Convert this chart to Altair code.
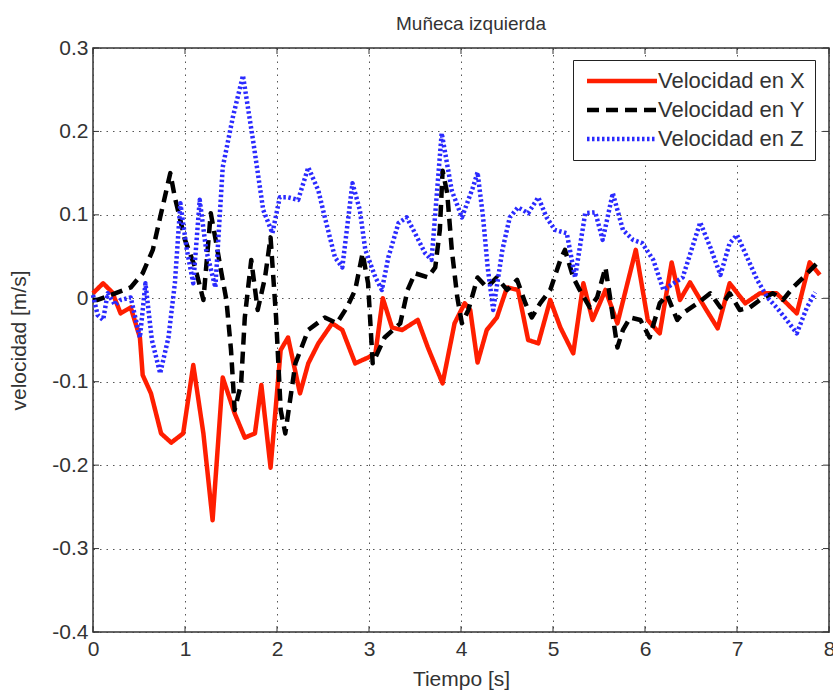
import altair as alt
import pandas as pd

# ---- data ----
t_x = [0.00,0.11,0.21,0.30,0.41,0.51,0.54,0.63,0.74,0.85,0.98,1.09,1.20,1.30,1.41,1.54,1.65,1.76,1.83,1.93,
       2.04,2.12,2.25,2.34,2.45,2.60,2.71,2.85,2.99,3.07,3.15,3.25,3.36,3.53,3.64,3.80,3.93,4.04,4.10,4.18,
       4.28,4.39,4.50,4.62,4.73,4.84,4.97,5.08,5.22,5.33,5.43,5.57,5.70,5.90,6.03,6.16,6.29,6.38,6.49,6.65,
       6.79,6.92,7.09,7.25,7.43,7.65,7.79,7.90]
v_x = [0.006,0.018,0.007,-0.018,-0.011,-0.047,-0.092,-0.114,-0.162,-0.173,-0.162,-0.080,-0.162,-0.266,-0.095,-0.138,-0.167,-0.162,-0.104,-0.203,
       -0.062,-0.047,-0.114,-0.078,-0.054,-0.030,-0.038,-0.078,-0.071,-0.066,0.000,-0.035,-0.038,-0.026,-0.059,-0.102,-0.030,-0.006,-0.014,-0.077,
       -0.038,-0.023,0.013,0.010,-0.050,-0.054,-0.002,-0.035,-0.066,0.018,-0.026,0.010,-0.030,0.058,-0.026,-0.042,0.043,-0.002,0.019,-0.011,
       -0.036,0.018,-0.006,0.006,0.006,-0.018,0.043,0.028]

t_y = [0.00,0.05,0.24,0.41,0.54,0.65,0.73,0.84,0.89,1.00,1.11,1.20,1.28,1.34,1.39,1.45,1.50,1.54,1.61,1.65,
       1.72,1.79,1.87,1.93,1.99,2.04,2.09,2.20,2.34,2.52,2.65,2.76,2.85,2.93,2.99,3.04,3.17,3.34,3.42,3.50,
       3.64,3.72,3.77,3.80,3.85,3.90,3.96,4.01,4.08,4.18,4.28,4.39,4.50,4.61,4.70,4.77,4.86,4.97,5.08,5.13,
       5.22,5.29,5.40,5.48,5.57,5.62,5.70,5.76,5.84,5.95,6.05,6.16,6.24,6.35,6.41,6.57,6.71,6.82,6.92,7.03,
       7.14,7.25,7.39,7.50,7.61,7.72,7.87]
v_y = [-0.002,-0.002,0.006,0.013,0.030,0.058,0.097,0.150,0.121,0.070,0.037,-0.002,0.102,0.066,0.034,-0.002,-0.062,-0.134,-0.102,-0.023,
       0.046,-0.014,0.025,0.073,-0.023,-0.134,-0.162,-0.078,-0.038,-0.023,-0.030,-0.011,0.010,0.054,0.018,-0.078,-0.047,-0.030,0.010,0.030,
       0.025,0.037,0.082,0.153,0.126,0.058,0.001,-0.030,-0.014,0.025,0.013,0.025,0.010,0.022,-0.006,-0.023,-0.006,0.010,0.046,0.058,
       0.025,0.010,-0.011,0.001,0.037,0.001,-0.059,-0.038,-0.023,-0.026,-0.047,-0.006,0.004,-0.026,-0.018,-0.006,0.006,-0.011,0.006,-0.014,
       -0.011,-0.002,0.006,-0.002,0.013,0.025,0.042]

t_z = [0.00,0.05,0.11,0.16,0.24,0.30,0.41,0.51,0.57,0.64,0.73,0.82,0.89,0.95,1.02,1.09,1.16,1.23,1.33,1.41,
       1.52,1.63,1.74,1.85,1.95,2.03,2.12,2.23,2.34,2.45,2.52,2.63,2.71,2.82,2.90,2.96,3.07,3.14,3.21,3.32,
       3.41,3.50,3.61,3.68,3.79,3.90,4.01,4.13,4.18,4.24,4.29,4.35,4.45,4.53,4.62,4.73,4.84,4.93,5.02,5.15,
       5.24,5.35,5.46,5.54,5.65,5.76,5.87,5.97,6.09,6.20,6.41,6.60,6.71,6.82,6.92,7.00,7.11,7.22,7.33,7.43,
       7.54,7.65,7.76,7.85]
v_z = [0.004,-0.020,-0.026,0.006,-0.008,-0.002,0.001,-0.047,0.018,-0.050,-0.090,-0.047,0.018,0.114,0.058,0.018,0.118,0.058,0.013,0.157,
       0.217,0.267,0.189,0.106,0.078,0.121,0.121,0.118,0.157,0.129,0.097,0.049,0.037,0.138,0.106,0.058,0.025,0.010,0.049,0.090,
       0.097,0.078,0.054,0.046,0.198,0.129,0.097,0.133,0.151,0.097,0.037,-0.014,0.058,0.097,0.109,0.102,0.121,0.097,0.082,0.078,
       0.025,0.102,0.103,0.070,0.126,0.082,0.070,0.066,0.046,0.010,0.025,0.091,0.061,0.028,0.066,0.076,0.049,0.022,0.001,-0.011,
       -0.026,-0.042,-0.011,0.007]

series_names = ["Velocidad en X", "Velocidad en Y", "Velocidad en Z"]
x_ticks = [0, 1, 2, 3, 4, 5, 6, 7, 8]
y_ticks = [-0.4, -0.3, -0.2, -0.1, 0.0, 0.1, 0.2, 0.3]

rows = []
for name, ts, vs in zip(series_names, [t_x, t_y, t_z], [v_x, v_y, v_z]):
    for t, v in zip(ts, vs):
        rows.append({"t": t, "v": v, "serie": name})
df = pd.DataFrame(rows)

FONT = "Liberation Sans, Arial, Helvetica, sans-serif"
TXT = "#333333"
W, H = 736, 584
FS = 21

xs = alt.Scale(domain=[0, 8], nice=False, zero=False)
ys = alt.Scale(domain=[-0.4, 0.3], nice=False, zero=False)

lines = alt.Chart(df).mark_line(strokeCap="butt", strokeJoin="round").encode(
    x=alt.X("t:Q", scale=xs, title="Tiempo [s]",
            axis=alt.Axis(values=x_ticks, format="d", labelFlush=False, ticks=False,
                          labelPadding=6, titlePadding=9, grid=True)),
    y=alt.Y("v:Q", scale=ys, title="velocidad [m/s]",
            axis=alt.Axis(values=y_ticks, labelExpr="'' + round(datum.value*10)/10",
                          ticks=False, labelPadding=5, titlePadding=22, grid=True)),
    color=alt.Color("serie:N", scale=alt.Scale(domain=series_names, range=["#ff1e00", "#000000", "#2a2aff"]),
                    legend=alt.Legend(title=None, orient="none", legendX=480, legendY=12,
                                      symbolType="M-4,0H4", symbolSize=306.25, symbolOffset=28,
                                      labelFont=FONT, labelFontSize=22, labelColor=TXT,
                                      labelOffset=25, rowPadding=7, padding=10,
                                      strokeColor="#222222", fillColor="white",
                                      cornerRadius=0)),
    strokeDash=alt.StrokeDash("serie:N", scale=alt.Scale(domain=series_names, range=[[1, 0], [12, 7], [2.5, 2.5]]),
                              legend=alt.Legend(title=None)),
    strokeWidth=alt.StrokeWidth("serie:N", scale=alt.Scale(domain=series_names, range=[4.5, 4.5, 2.0]),
                                legend=alt.Legend(title=None)),
    order=alt.Order("t:Q"),
)

xt = pd.DataFrame({"tick": x_ticks})
yt = pd.DataFrame({"tick": y_ticks})
tick_style = dict(color="#333333", strokeWidth=1)
xb = alt.Chart(xt).mark_rule(**tick_style).encode(x=alt.X("tick:Q", scale=xs), y=alt.value(H), y2=alt.value(H - 6))
xtop = alt.Chart(xt).mark_rule(**tick_style).encode(x=alt.X("tick:Q", scale=xs), y=alt.value(0), y2=alt.value(6))
yl = alt.Chart(yt).mark_rule(**tick_style).encode(y=alt.Y("tick:Q", scale=ys), x=alt.value(0), x2=alt.value(6))
yr = alt.Chart(yt).mark_rule(**tick_style).encode(y=alt.Y("tick:Q", scale=ys), x=alt.value(W), x2=alt.value(W - 6))

chart = alt.layer(xb, xtop, yl, yr, lines).properties(
    width=W, height=H,
    background="white",
    title=alt.TitleParams("Muñeca izquierda", font=FONT, fontSize=19, fontWeight="normal",
                          color=TXT, offset=3, anchor="middle", dx=10),
    autosize=alt.AutoSizeParams(type="none"),
    padding={"left": 93, "top": 48, "right": 4, "bottom": 59},
).configure_view(
    stroke="#333333", strokeWidth=1.5
).configure_axis(
    labelFont=FONT, labelFontSize=FS, labelColor=TXT,
    titleFont=FONT, titleFontSize=FS, titleColor=TXT, titleFontWeight="normal",
    domain=False, gridColor="#444444", gridDash=[1.5, 5], gridWidth=1, gridOpacity=0.9,
)

chart.save("out.html", embed_options={"renderer": "svg", "actions": False})
